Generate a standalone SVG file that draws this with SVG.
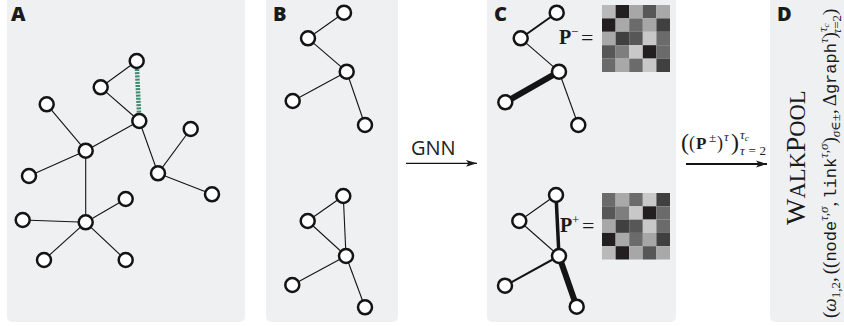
<svg xmlns="http://www.w3.org/2000/svg" width="844" height="326" viewBox="0 0 844 326">
<style>
.panel{fill:#eff0f2}
.lab{font-family:"Open Sans","Liberation Sans",sans-serif;font-weight:800;font-size:20px;fill:#1a1a1a}
.n{fill:#fff;stroke:#141414;stroke-width:2.5}
.e{stroke:#141414;stroke-width:1.1;fill:none}
.m{font-family:"Liberation Serif","DejaVu Serif",serif;fill:#1a1a1a}
.tt{font-family:"Liberation Mono","Courier New",monospace}
</style>
<defs>
<marker id="ah" markerWidth="12" markerHeight="8" refX="11" refY="4" orient="auto" markerUnits="userSpaceOnUse">
<path d="M0,0.6 L11,4 L0,7.4 L2.5,4 Z" fill="#1a1a1a"/>
</marker>
</defs>
<!-- panels -->
<rect class="panel" x="7" y="-6" width="238" height="328" rx="5"/>
<rect class="panel" x="266" y="-6" width="132" height="328" rx="5"/>
<rect class="panel" x="487" y="-6" width="189" height="328" rx="5"/>
<rect class="panel" x="770" y="-6" width="84" height="328" rx="5"/>
<text class="lab" x="11" y="21">A</text>
<text class="lab" x="273" y="21">B</text>
<text class="lab" x="494" y="21">C</text>
<text class="lab" x="777" y="21">D</text>

<g id="connectors">
<!-- A -->
<line class="e" x1="136.7" y1="61" x2="100.7" y2="87.3"/>
<line class="e" x1="100.7" y1="87.3" x2="139.3" y2="121"/>
<line x1="137" y1="69" x2="139" y2="113" stroke="#3b8c6e" stroke-width="4.5" stroke-dasharray="2,1.2"/>
<line class="e" x1="46.7" y1="104.3" x2="85.7" y2="150.7"/>
<line class="e" x1="139.3" y1="121" x2="85.7" y2="150.7"/>
<line class="e" x1="139.3" y1="121" x2="158" y2="173.3"/>
<line class="e" x1="158" y1="173.3" x2="190.7" y2="129"/>
<line class="e" x1="158" y1="173.3" x2="212" y2="194.3"/>
<line class="e" x1="85.7" y1="150.7" x2="29" y2="176"/>
<line class="e" x1="85.7" y1="150.7" x2="85.7" y2="222.3"/>
<line class="e" x1="85.7" y1="222.3" x2="22.7" y2="220"/>
<line class="e" x1="85.7" y1="222.3" x2="125.7" y2="199"/>
<line class="e" x1="85.7" y1="222.3" x2="44" y2="260"/>
<line class="e" x1="85.7" y1="222.3" x2="125.7" y2="260"/>
<!-- B top -->
<line class="e" x1="344" y1="12.7" x2="308" y2="38.3"/>
<line class="e" x1="308" y1="38.3" x2="346.7" y2="71.7"/>
<line class="e" x1="346.7" y1="71.7" x2="292.7" y2="101"/>
<line class="e" x1="346.7" y1="71.7" x2="365" y2="125"/>
<!-- B bottom -->
<line class="e" x1="343.3" y1="196" x2="307.7" y2="221"/>
<line class="e" x1="307.7" y1="221" x2="346" y2="256"/>
<line class="e" x1="343.3" y1="196" x2="346" y2="256"/>
<line class="e" x1="346" y1="256" x2="292.3" y2="285"/>
<line class="e" x1="346" y1="256" x2="365" y2="307.3"/>
<!-- C top -->
<line class="e" x1="556.7" y1="12.7" x2="520.7" y2="38.3" style="stroke-width:2"/>
<line class="e" x1="520.7" y1="38.3" x2="559" y2="71.7"/>
<line class="e" x1="559" y1="71.7" x2="505.3" y2="102.3" style="stroke-width:6"/>
<line class="e" x1="559" y1="71.7" x2="578.3" y2="125"/>
<!-- C bottom -->
<line class="e" x1="556" y1="195" x2="519.3" y2="221"/>
<line class="e" x1="519.3" y1="221" x2="559" y2="256"/>
<line class="e" x1="556" y1="195" x2="559" y2="256" style="stroke-width:3.5"/>
<line class="e" x1="559" y1="256" x2="505" y2="285.7" style="stroke-width:2"/>
<line class="e" x1="559" y1="256" x2="576.7" y2="306.7" style="stroke-width:6"/>
<!-- arrows -->
<line class="e" x1="406" y1="163.3" x2="477" y2="163.3" style="stroke-width:1.3" marker-end="url(#ah)"/>
<line class="e" x1="686" y1="164" x2="767" y2="164" style="stroke-width:1.8" marker-end="url(#ah)"/>
</g>

<!-- A nodes -->
<g id="a1"><circle class="n" cx="136.7" cy="61" r="7"/></g>
<g id="a2"><circle class="n" cx="100.7" cy="87.3" r="7"/></g>
<g id="a3"><circle class="n" cx="46.7" cy="104.3" r="7"/></g>
<g id="a4"><circle class="n" cx="139.3" cy="121" r="7"/></g>
<g id="a5"><circle class="n" cx="190.7" cy="129" r="7"/></g>
<g id="a6"><circle class="n" cx="85.7" cy="150.7" r="7"/></g>
<g id="a7"><circle class="n" cx="29" cy="176" r="7"/></g>
<g id="a8"><circle class="n" cx="158" cy="173.3" r="7"/></g>
<g id="a9"><circle class="n" cx="212" cy="194.3" r="7"/></g>
<g id="a10"><circle class="n" cx="125.7" cy="199" r="7"/></g>
<g id="a11"><circle class="n" cx="22.7" cy="220" r="7"/></g>
<g id="a12"><circle class="n" cx="85.7" cy="222.3" r="7"/></g>
<g id="a13"><circle class="n" cx="44" cy="260" r="7"/></g>
<g id="a14"><circle class="n" cx="125.7" cy="260" r="7"/></g>
<!-- B nodes -->
<g id="b1"><circle class="n" cx="344" cy="12.7" r="7"/></g>
<g id="b2"><circle class="n" cx="308" cy="38.3" r="7"/></g>
<g id="b3"><circle class="n" cx="346.7" cy="71.7" r="7"/></g>
<g id="b4"><circle class="n" cx="292.7" cy="101" r="7"/></g>
<g id="b5"><circle class="n" cx="365" cy="125" r="7"/></g>
<g id="b6"><circle class="n" cx="343.3" cy="196" r="7"/></g>
<g id="b7"><circle class="n" cx="307.7" cy="221" r="7"/></g>
<g id="b8"><circle class="n" cx="346" cy="256" r="7"/></g>
<g id="b9"><circle class="n" cx="292.3" cy="285" r="7"/></g>
<g id="b10"><circle class="n" cx="365" cy="307.3" r="7"/></g>
<!-- C nodes -->
<g id="c1"><circle class="n" cx="556.7" cy="12.7" r="7"/></g>
<g id="c2"><circle class="n" cx="520.7" cy="38.3" r="7"/></g>
<g id="c3"><circle class="n" cx="559" cy="71.7" r="7"/></g>
<g id="c4"><circle class="n" cx="505.3" cy="102.3" r="7"/></g>
<g id="c5"><circle class="n" cx="578.3" cy="125" r="7"/></g>
<g id="c6"><circle class="n" cx="556" cy="195" r="7"/></g>
<g id="c7"><circle class="n" cx="519.3" cy="221" r="7"/></g>
<g id="c8"><circle class="n" cx="559" cy="256" r="7"/></g>
<g id="c9"><circle class="n" cx="505" cy="285.7" r="7"/></g>
<g id="c10"><circle class="n" cx="576.7" cy="306.7" r="7"/></g>

<!-- P minus -->
<g id="pminus">
<text class="m" x="559" y="44" font-size="20" font-weight="700">P</text>
<text class="m" x="571" y="36" font-size="13">−</text>
<text class="m" x="581" y="45" font-size="22">=</text>
<g transform="translate(602,5)">
<rect x="0" y="0" width="13.6" height="13.4" fill="#b9b9b9"/>
<rect x="13.6" y="0" width="13.6" height="13.4" fill="#231f20"/>
<rect x="27.2" y="0" width="13.6" height="13.4" fill="#a7a7a7"/>
<rect x="40.8" y="0" width="13.6" height="13.4" fill="#575757"/>
<rect x="54.4" y="0" width="13.6" height="13.4" fill="#a9a9a9"/>
<rect x="0" y="13.4" width="13.6" height="13.4" fill="#231f20"/>
<rect x="13.6" y="13.4" width="13.6" height="13.4" fill="#a9a9a9"/>
<rect x="27.2" y="13.4" width="13.6" height="13.4" fill="#6b6b6b"/>
<rect x="40.8" y="13.4" width="13.6" height="13.4" fill="#a6a6a6"/>
<rect x="54.4" y="13.4" width="13.6" height="13.4" fill="#404040"/>
<rect x="0" y="26.8" width="13.6" height="13.4" fill="#a8a8a8"/>
<rect x="13.6" y="26.8" width="13.6" height="13.4" fill="#404040"/>
<rect x="27.2" y="26.8" width="13.6" height="13.4" fill="#575757"/>
<rect x="40.8" y="26.8" width="13.6" height="13.4" fill="#c8c8c8"/>
<rect x="54.4" y="26.8" width="13.6" height="13.4" fill="#6b6b6b"/>
<rect x="0" y="40.2" width="13.6" height="13.4" fill="#575757"/>
<rect x="13.6" y="40.2" width="13.6" height="13.4" fill="#7e7e7e"/>
<rect x="27.2" y="40.2" width="13.6" height="13.4" fill="#c8c8c8"/>
<rect x="40.8" y="40.2" width="13.6" height="13.4" fill="#231f20"/>
<rect x="54.4" y="40.2" width="13.6" height="13.4" fill="#6b6b6b"/>
<rect x="0" y="53.6" width="13.6" height="13.4" fill="#6b6b6b"/>
<rect x="13.6" y="53.6" width="13.6" height="13.4" fill="#a8a8a8"/>
<rect x="27.2" y="53.6" width="13.6" height="13.4" fill="#6b6b6b"/>
<rect x="40.8" y="53.6" width="13.6" height="13.4" fill="#c8c8c8"/>
<rect x="54.4" y="53.6" width="13.6" height="13.4" fill="#404040"/>
</g>
</g>

<!-- P plus -->
<g id="pplus">
<text class="m" x="560" y="231.5" font-size="20" font-weight="700">P</text>
<text class="m" x="572" y="224" font-size="13">+</text>
<text class="m" x="582" y="233" font-size="22">=</text>
<g transform="translate(602,193)">
<rect x="0" y="0" width="13.6" height="13.3" fill="#6b6b6b"/>
<rect x="13.6" y="0" width="13.6" height="13.3" fill="#a9a9a9"/>
<rect x="27.2" y="0" width="13.6" height="13.3" fill="#6b6b6b"/>
<rect x="40.8" y="0" width="13.6" height="13.3" fill="#c8c8c8"/>
<rect x="54.4" y="0" width="13.6" height="13.3" fill="#404040"/>
<rect x="0" y="13.3" width="13.6" height="13.3" fill="#575757"/>
<rect x="13.6" y="13.3" width="13.6" height="13.3" fill="#7e7e7e"/>
<rect x="27.2" y="13.3" width="13.6" height="13.3" fill="#c8c8c8"/>
<rect x="40.8" y="13.3" width="13.6" height="13.3" fill="#231f20"/>
<rect x="54.4" y="13.3" width="13.6" height="13.3" fill="#6b6b6b"/>
<rect x="0" y="26.6" width="13.6" height="13.3" fill="#a8a8a8"/>
<rect x="13.6" y="26.6" width="13.6" height="13.3" fill="#404040"/>
<rect x="27.2" y="26.6" width="13.6" height="13.3" fill="#575757"/>
<rect x="40.8" y="26.6" width="13.6" height="13.3" fill="#c8c8c8"/>
<rect x="54.4" y="26.6" width="13.6" height="13.3" fill="#6b6b6b"/>
<rect x="0" y="39.9" width="13.6" height="13.3" fill="#231f20"/>
<rect x="13.6" y="39.9" width="13.6" height="13.3" fill="#a9a9a9"/>
<rect x="27.2" y="39.9" width="13.6" height="13.3" fill="#6b6b6b"/>
<rect x="40.8" y="39.9" width="13.6" height="13.3" fill="#a6a6a6"/>
<rect x="54.4" y="39.9" width="13.6" height="13.3" fill="#404040"/>
<rect x="0" y="53.2" width="13.6" height="13.3" fill="#b9b9b9"/>
<rect x="13.6" y="53.2" width="13.6" height="13.3" fill="#231f20"/>
<rect x="27.2" y="53.2" width="13.6" height="13.3" fill="#a7a7a7"/>
<rect x="40.8" y="53.2" width="13.6" height="13.3" fill="#575757"/>
<rect x="54.4" y="53.2" width="13.6" height="13.3" fill="#a9a9a9"/>
</g>
</g>

<!-- GNN label -->
<text x="411" y="155" font-family="'Open Sans','Liberation Sans',sans-serif" font-size="20" fill="#222">GNN</text>

<!-- walk label -->
<g id="walklabel" class="m">
<text x="681" y="150" font-size="24">(</text>
<text x="689" y="149" font-size="18">(</text>
<text x="696" y="149" font-size="17" font-weight="700">P</text>
<text x="709" y="142" font-size="13">±</text>
<text x="717" y="149" font-size="18">)</text>
<text x="724" y="141" font-size="13" font-style="italic">τ</text>
<text x="731" y="150" font-size="24">)</text>
<text x="740" y="139" font-size="13" font-style="italic">τ<tspan font-size="9" dy="2">c</tspan></text>
<text x="740" y="155" font-size="13" textLength="26" lengthAdjust="spacing"><tspan font-style="italic">τ</tspan>=2</text>
</g>

<!-- D -->
<g id="walkpool" class="m">
<text transform="translate(805,225) rotate(-90)" font-size="28" fill="#1a1a1a">W<tspan font-size="22.5">ALK</tspan>P<tspan font-size="22.5">OOL</tspan></text>
<text transform="translate(836,318) rotate(-90)" font-size="19" fill="#1a1a1a">(<tspan font-style="italic">ω</tspan><tspan font-size="13" dy="4">1,2</tspan><tspan dy="-4">,</tspan><tspan dx="3">((</tspan><tspan class="tt" font-size="17">node</tspan><tspan font-size="13" font-style="italic" dy="-8">τ,σ</tspan><tspan dy="8">,</tspan><tspan class="tt" font-size="17" dx="3">link</tspan><tspan font-size="13" font-style="italic" dy="-8">τ,σ</tspan><tspan dy="8">)</tspan><tspan font-size="13" dy="4"><tspan font-style="italic">σ</tspan>∈±</tspan><tspan dy="-4">,</tspan><tspan dx="3">Δ</tspan><tspan class="tt" font-size="17">graph</tspan><tspan font-size="13" font-style="italic" dy="-8">τ</tspan><tspan dy="8">)</tspan><tspan font-size="13" font-style="italic" dy="-9">τ</tspan><tspan font-size="9" font-style="italic" dy="2">c</tspan><tspan font-size="13" dx="-10" dy="12"><tspan font-style="italic">τ</tspan>=2</tspan><tspan dy="-5">)</tspan></text>
</g>
</svg>
